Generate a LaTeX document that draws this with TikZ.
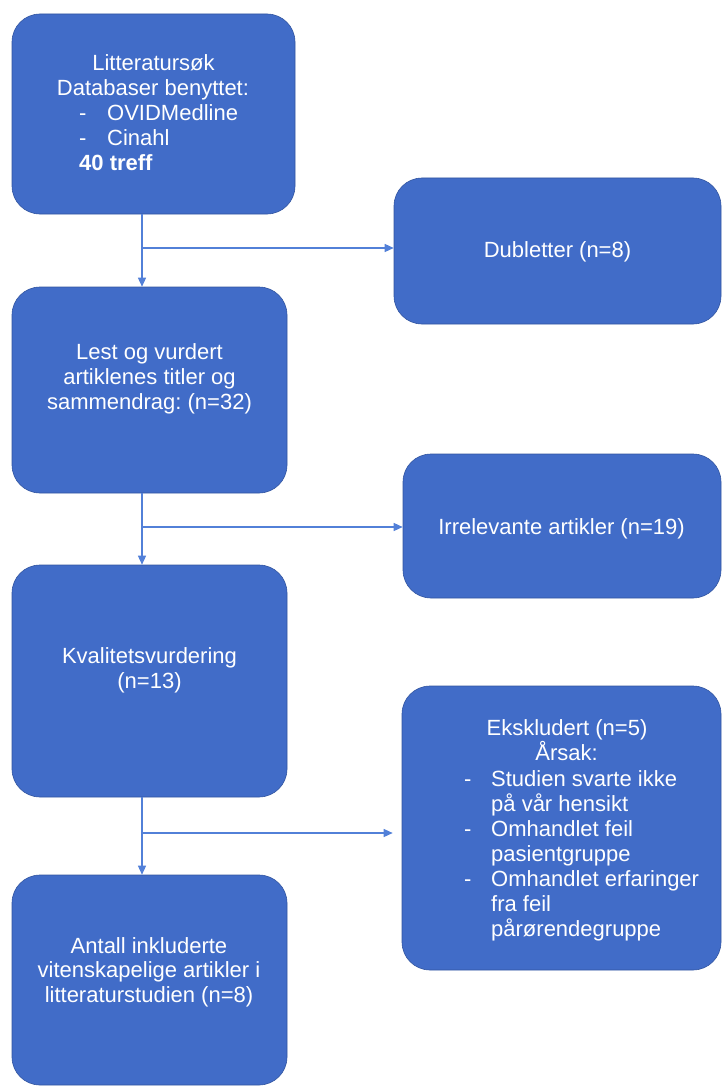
\documentclass[tikz,border=0pt]{standalone}
\usepackage{fontspec}
\setmainfont{Liberation Sans}
\frenchspacing
\usetikzlibrary{arrows.meta}
\definecolor{boxblue}{RGB}{65,108,200}
\definecolor{boxedge}{RGB}{50,85,160}
\definecolor{linkblue}{RGB}{82,128,216}
\begin{document}
\begin{tikzpicture}[x=1pt,y=-1pt,
  flowbox/.style={draw=boxedge, line width=0.6pt, fill=boxblue, rounded corners=28pt,
    inner sep=0pt, minimum width=#1},
  txt/.style={text=white, inner sep=0pt, anchor=base, font=\fontsize{22}{24}\selectfont},
  txtl/.style={txt, anchor=base west},
  link/.style={draw=linkblue, line width=1.3pt, -{Triangle[length=9pt,width=8pt]}},
  plain/.style={draw=linkblue, line width=1.3pt}]
\useasboundingbox (0,0) rectangle (723,1086);
% boxes
\node[flowbox=283pt, minimum height=200pt] (b1) at (153.5,114) {};
\node[flowbox=327pt, minimum height=146pt] (d1) at (557.5,251) {};
\node[flowbox=275pt, minimum height=206pt] (b2) at (149.5,390) {};
\node[flowbox=318pt, minimum height=144pt] (d2) at (562,526) {};
\node[flowbox=275pt, minimum height=232pt] (b3) at (149.5,681) {};
\node[flowbox=319pt, minimum height=284pt] (d3) at (561.5,828) {};
\node[flowbox=275pt, minimum height=210pt] (b4) at (149.5,980) {};
% texts box 1
\node[txt] (t11) at (153.5,71) {Litteratursøk};
\node[txt] (t12) at (153,95.5) {Databaser benyttet:};
\node[txtl] (t13a) at (79,121) {-};
\node[txtl] (t13) at (107,121) {OVIDMedline};
\node[txtl] (t14a) at (79,146) {-};
\node[txtl] (t14) at (107,146) {Cinahl};
\node[txtl, font=\fontsize{22}{24}\selectfont\bfseries] (t15) at (79,171) {40 treff};
% Dubletter
\node[txt] (td1) at (557.5,257) {Dubletter (n=8)};
% box 2
\node[txt] (t21) at (149.5,359) {Lest og vurdert};
\node[txt] (t22) at (149.5,384) {artiklenes titler og};
\node[txt] (t23) at (149.5,409) {sammendrag: (n=32)};
% Irrelevante
\node[txt] (td2) at (561.5,534) {Irrelevante artikler (n=19)};
% box 3
\node[txt] (t31) at (149.5,663) {Kvalitetsvurdering};
\node[txt] (t32) at (149.5,688) {(n=13)};
% Ekskludert
\node[txt] (e1) at (567,735) {Ekskludert (n=5)};
\node[txt] (e2) at (566.5,760.5) {Årsak:};
\node[txtl] (e3a) at (464,786) {-};
\node[txtl] (e3) at (491,786) {Studien svarte ikke};
\node[txtl] (e4) at (491,811) {på vår hensikt};
\node[txtl] (e5a) at (464,836) {-};
\node[txtl] (e5) at (491,836) {Omhandlet feil};
\node[txtl] (e6) at (491,861) {pasientgruppe};
\node[txtl] (e7a) at (464,886) {-};
\node[txtl] (e7) at (491,886) {Omhandlet erfaringer};
\node[txtl] (e8) at (491,911) {fra feil};
\node[txtl] (e9) at (491,936) {pårørendegruppe};
% box 4
\node[txt] (t41) at (149,953) {Antall inkluderte};
\node[txt] (t42) at (149,977.5) {vitenskapelige artikler i};
\node[txt] (t43) at (149,1002) {litteraturstudien (n=8)};
% connectors
\coordinate (j1) at (142,248);
\coordinate (j2) at (142,527);
\coordinate (j3) at (142,833);
\draw[link] (b1.south -| j1) -- (b2.north -| j1);
\draw[link] (j1) -- (d1.west |- j1);
\draw[link] (b2.south -| j2) -- (b3.north -| j2);
\draw[link] (j2) -- (d2.west |- j2);
\draw[link] (b3.south -| j3) -- (b4.north -| j3);
\draw[link, shorten >=9pt] (j3) -- (d3.west |- j3);
\end{tikzpicture}
\end{document}
